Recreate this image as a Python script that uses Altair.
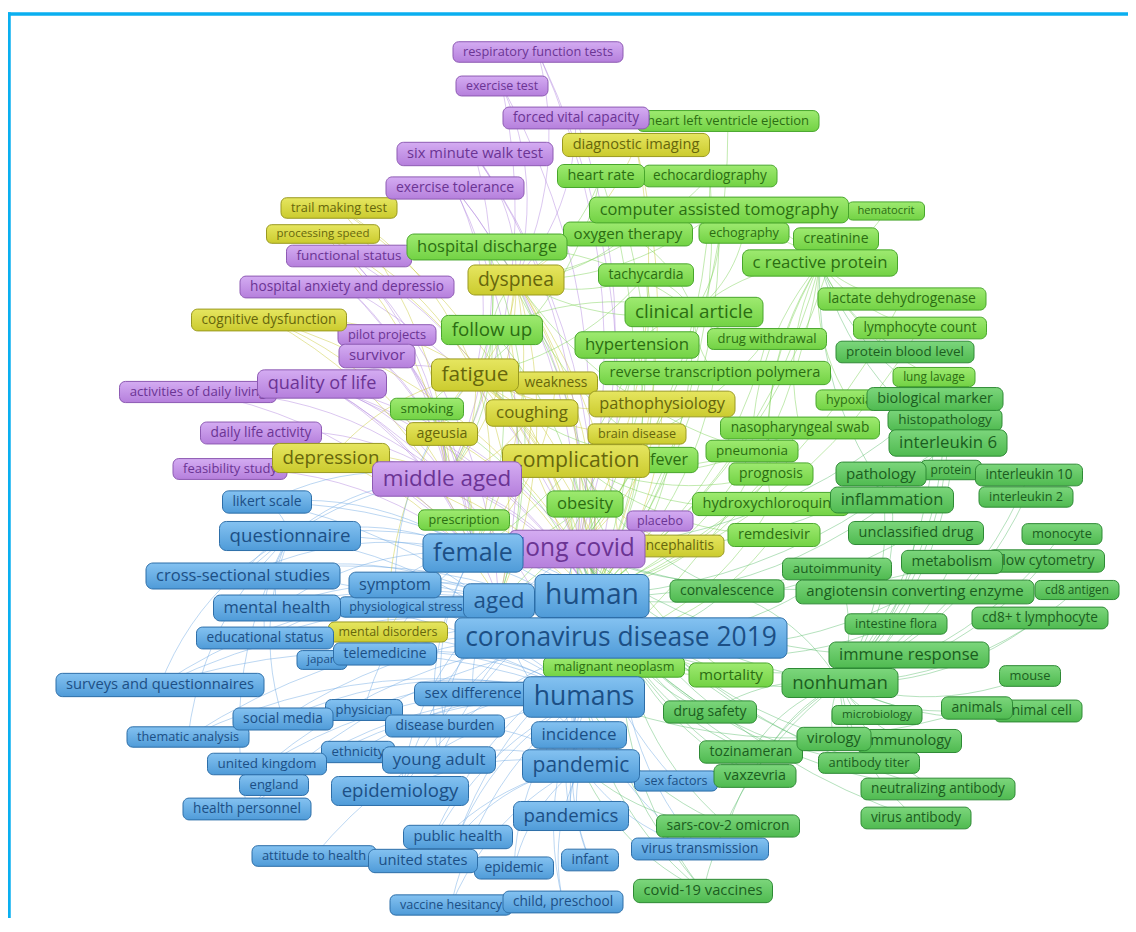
import math
import altair as alt
import pandas as pd

# ---- nodes: (label, x, y, label-box width), in map pixels ----
purple_nodes = [
    ("respiratory function tests", 538, 52, 170),
    ("exercise test", 502, 86, 92),
    ("forced vital capacity", 576, 118, 146),
    ("six minute walk test", 475, 154, 156),
    ("exercise tolerance", 455, 188, 138),
    ("functional status", 349, 256, 125),
    ("hospital anxiety and depressio", 347, 287, 214),
    ("pilot projects", 387, 335, 98),
    ("survivor", 377, 356, 76),
    ("quality of life", 322, 384, 129),
    ("activities of daily living", 198, 392, 157),
    ("daily life activity", 261, 433, 121),
    ("feasibility study", 230, 469, 114),
    ("middle aged", 447, 479, 149),
    ("long covid", 577, 549, 136),
    ("placebo", 660, 521, 66),
]
yellow_nodes = [
    ("diagnostic imaging", 636, 145, 147),
    ("trail making test", 339, 208, 116),
    ("processing speed", 323, 234, 113),
    ("dyspnea", 516, 280, 96),
    ("cognitive dysfunction", 269, 320, 155),
    ("fatigue", 475, 375, 87),
    ("weakness", 556, 383, 83),
    ("coughing", 532, 413, 92),
    ("pathophysiology", 662, 404, 146),
    ("ageusia", 442, 434, 71),
    ("brain disease", 637, 434, 98),
    ("depression", 331, 458, 117),
    ("complication", 576, 461, 147),
    ("encephalitis", 676, 546, 96),
    ("mental disorders", 388, 632, 119),
]
lime_nodes = [
    ("heart left ventricle ejection", 728, 121, 182),
    ("heart rate", 601, 176, 87),
    ("echocardiography", 710, 176, 134),
    ("computer assisted tomography", 719, 210, 259),
    ("hematocrit", 886, 211, 77),
    ("oxygen therapy", 628, 234, 129),
    ("echography", 744, 233, 90),
    ("creatinine", 836, 239, 85),
    ("hospital discharge", 487, 247, 160),
    ("c reactive protein", 820, 263, 155),
    ("tachycardia", 646, 275, 95),
    ("lactate dehydrogenase", 902, 299, 168),
    ("clinical article", 694, 312, 138),
    ("follow up", 492, 330, 101),
    ("lymphocyte count", 920, 328, 133),
    ("hypertension", 637, 345, 124),
    ("drug withdrawal", 767, 339, 119),
    ("reverse transcription polymera", 715, 373, 231),
    ("lung lavage", 934, 377, 82),
    ("hypoxia", 849, 400, 66),
    ("smoking", 427, 409, 73),
    ("nasopharyngeal swab", 800, 428, 159),
    ("pneumonia", 752, 451, 92),
    ("fever", 669, 460, 58),
    ("prognosis", 771, 474, 84),
    ("obesity", 585, 504, 76),
    ("hydroxychloroquine", 771, 504, 157),
    ("prescription", 464, 520, 91),
    ("remdesivir", 774, 535, 92),
    ("malignant neoplasm", 614, 667, 141),
    ("mortality", 731, 675, 84),
]
green_nodes = [
    ("protein blood level", 905, 352, 138),
    ("biological marker", 935, 399, 136),
    ("histopathology", 945, 420, 114),
    ("interleukin 6", 948, 443, 118),
    ("pathology", 881, 474, 90),
    ("protein", 951, 470, 61),
    ("interleukin 10", 1029, 475, 107),
    ("interleukin 2", 1026, 497, 94),
    ("inflammation", 892, 500, 123),
    ("unclassified drug", 916, 533, 135),
    ("monocyte", 1062, 534, 80),
    ("metabolism", 952, 562, 101),
    ("flow cytometry", 1046, 561, 117),
    ("autoimmunity", 837, 569, 109),
    ("convalescence", 727, 591, 114),
    ("angiotensin converting enzyme", 915, 592, 238),
    ("cd8 antigen", 1077, 590, 84),
    ("intestine flora", 896, 624, 102),
    ("cd8+ t lymphocyte", 1040, 618, 136),
    ("immune response", 909, 655, 160),
    ("nonhuman", 840, 683, 116),
    ("mouse", 1030, 676, 61),
    ("drug safety", 710, 712, 93),
    ("microbiology", 877, 715, 90),
    ("animals", 977, 708, 71),
    ("animal cell", 1038, 711, 88),
    ("virology", 834, 739, 74),
    ("immunology", 909, 741, 105),
    ("tozinameran", 751, 752, 103),
    ("antibody titer", 869, 763, 101),
    ("vaxzevria", 755, 776, 82),
    ("neutralizing antibody", 938, 789, 154),
    ("virus antibody", 916, 818, 110),
    ("sars-cov-2 omicron", 728, 826, 143),
    ("covid-19 vaccines", 703, 891, 139),
]
blue_nodes = [
    ("likert scale", 267, 502, 89),
    ("questionnaire", 290, 536, 141),
    ("female", 473, 553, 100),
    ("cross-sectional studies", 243, 576, 194),
    ("symptom", 395, 585, 92),
    ("aged", 499, 601, 71),
    ("human", 592, 596, 114),
    ("mental health", 277, 608, 127),
    ("physiological stress", 406, 607, 134),
    ("educational status", 265, 638, 137),
    ("coronavirus disease 2019", 621, 638, 332),
    ("japan", 322, 660, 50),
    ("telemedicine", 385, 654, 103),
    ("surveys and questionnaires", 160, 685, 208),
    ("sex difference", 473, 694, 117),
    ("humans", 584, 697, 121),
    ("physician", 364, 710, 77),
    ("social media", 283, 719, 100),
    ("disease burden", 445, 726, 119),
    ("thematic analysis", 188, 737, 122),
    ("incidence", 579, 735, 95),
    ("ethnicity", 358, 752, 73),
    ("young adult", 439, 760, 113),
    ("united kingdom", 267, 764, 119),
    ("pandemic", 581, 766, 117),
    ("sex factors", 676, 781, 83),
    ("england", 274, 785, 69),
    ("epidemiology", 400, 791, 137),
    ("health personnel", 247, 809, 128),
    ("pandemics", 571, 816, 115),
    ("public health", 458, 837, 109),
    ("virus transmission", 700, 849, 137),
    ("attitude to health", 314, 856, 124),
    ("united states", 423, 861, 109),
    ("epidemic", 514, 868, 79),
    ("infant", 590, 860, 57),
    ("vaccine hesitancy", 451, 905, 122),
    ("child, preschool", 563, 902, 120),
]

# ---- links (hub -> neighbours) ----
links = {
    "coronavirus disease 2019": ["questionnaire", "cross-sectional studies", "surveys and questionnaires",
        "mental health", "educational status", "symptom", "likert scale", "telemedicine", "social media",
        "thematic analysis", "united kingdom", "health personnel", "epidemiology", "pandemics", "public health",
        "united states", "virus transmission", "covid-19 vaccines", "sars-cov-2 omicron", "tozinameran",
        "vaxzevria", "drug safety", "mortality", "nonhuman", "immune response", "convalescence",
        "angiotensin converting enzyme", "remdesivir", "hydroxychloroquine", "c reactive protein", "fatigue",
        "dyspnea", "quality of life", "depression", "long covid", "middle aged", "intestine flora",
        "autoimmunity", "antibody titer", "neutralizing antibody"],
    "human": ["hospital discharge", "follow up", "fatigue", "dyspnea", "coughing", "complication",
        "clinical article", "hypertension", "obesity", "computer assisted tomography", "c reactive protein",
        "interleukin 6", "pneumonia", "fever", "prognosis", "inflammation", "unclassified drug", "quality of life",
        "middle aged", "six minute walk test", "exercise tolerance", "respiratory function tests",
        "diagnostic imaging", "heart rate", "oxygen therapy", "lactate dehydrogenase", "lymphocyte count",
        "reverse transcription polymera", "pathophysiology", "ageusia", "depression", "mortality",
        "questionnaire", "young adult", "incidence", "pandemic", "sex difference", "epidemiology", "aged",
        "female", "smoking", "tachycardia", "echocardiography", "nasopharyngeal swab", "drug withdrawal",
        "creatinine"],
    "humans": ["surveys and questionnaires", "cross-sectional studies", "mental health", "social media",
        "thematic analysis", "united kingdom", "england", "health personnel", "attitude to health",
        "united states", "vaccine hesitancy", "child, preschool", "infant", "epidemic", "public health",
        "pandemics", "virus transmission", "covid-19 vaccines", "sars-cov-2 omicron", "animals",
        "quality of life", "fatigue", "long covid", "physician", "ethnicity", "disease burden",
        "educational status", "japan", "telemedicine", "likert scale", "questionnaire"],
    "female": ["questionnaire", "likert scale", "cross-sectional studies", "depression", "quality of life",
        "fatigue", "dyspnea", "cognitive dysfunction", "hospital anxiety and depressio",
        "activities of daily living", "daily life activity", "feasibility study", "pilot projects", "survivor",
        "follow up", "smoking", "ageusia", "coughing", "obesity", "hypertension", "prescription", "young adult",
        "physician", "disease burden", "mental health", "symptom", "physiological stress", "mental disorders",
        "weakness"],
    "long covid": ["fatigue", "dyspnea", "complication", "pathophysiology", "brain disease", "encephalitis",
        "placebo", "quality of life", "exercise tolerance", "six minute walk test", "functional status",
        "cognitive dysfunction", "trail making test", "processing speed", "hospital anxiety and depressio",
        "forced vital capacity", "exercise test", "respiratory function tests", "diagnostic imaging",
        "nonhuman", "immune response", "autoimmunity", "virology", "neutralizing antibody", "virus antibody",
        "antibody titer", "covid-19 vaccines", "sex factors", "mortality", "incidence", "pandemic",
        "epidemiology", "heart left ventricle ejection", "tachycardia", "echocardiography", "interleukin 6",
        "metabolism", "biological marker", "drug safety", "tozinameran", "vaxzevria"],
    "middle aged": ["quality of life", "activities of daily living", "feasibility study", "daily life activity",
        "survivor", "pilot projects", "functional status", "hospital anxiety and depressio",
        "six minute walk test", "exercise test", "depression", "fatigue", "dyspnea", "follow up",
        "hospital discharge", "questionnaire", "cross-sectional studies", "cognitive dysfunction",
        "trail making test", "processing speed", "smoking", "ageusia", "coughing", "likert scale"],
    "aged": ["quality of life", "functional status", "exercise tolerance", "hospital discharge", "follow up",
        "fatigue", "dyspnea", "depression", "symptom", "mental health", "educational status",
        "cross-sectional studies", "surveys and questionnaires", "epidemiology", "young adult",
        "sex difference", "incidence", "mortality", "obesity", "hypertension"],
    "fatigue": ["dyspnea", "coughing", "weakness", "ageusia", "cognitive dysfunction", "depression",
        "trail making test", "processing speed", "smoking", "hospital discharge", "follow up",
        "mental disorders", "brain disease", "pathophysiology", "tachycardia", "heart rate",
        "exercise tolerance", "quality of life", "fever", "symptom"],
    "dyspnea": ["coughing", "tachycardia", "diagnostic imaging", "computer assisted tomography",
        "oxygen therapy", "hospital discharge", "follow up", "fever", "six minute walk test",
        "forced vital capacity", "respiratory function tests", "exercise test", "heart rate",
        "echocardiography", "clinical article", "pneumonia"],
    "complication": ["fever", "pneumonia", "encephalitis", "brain disease", "obesity", "hypertension",
        "malignant neoplasm", "mortality", "hydroxychloroquine", "remdesivir", "prognosis", "convalescence",
        "nasopharyngeal swab", "drug withdrawal"],
    "nonhuman": ["immune response", "interleukin 6", "interleukin 10", "interleukin 2", "inflammation",
        "metabolism", "flow cytometry", "monocyte", "mouse", "animals", "animal cell", "cd8+ t lymphocyte",
        "cd8 antigen", "intestine flora", "microbiology", "virology", "immunology", "antibody titer",
        "neutralizing antibody", "virus antibody", "angiotensin converting enzyme", "autoimmunity",
        "biological marker", "histopathology", "pathology", "protein", "unclassified drug", "tozinameran",
        "vaxzevria", "sars-cov-2 omicron", "covid-19 vaccines", "drug safety", "convalescence"],
    "c reactive protein": ["lactate dehydrogenase", "lymphocyte count", "protein blood level", "creatinine",
        "hematocrit", "interleukin 6", "biological marker", "hypoxia", "lung lavage", "pneumonia",
        "clinical article", "computer assisted tomography", "prognosis", "inflammation", "hydroxychloroquine",
        "nasopharyngeal swab", "echography"],
    "pandemic": ["epidemiology", "incidence", "public health", "pandemics", "sex factors", "united states",
        "infant", "epidemic", "virus transmission", "young adult", "disease burden", "vaccine hesitancy",
        "child, preschool", "covid-19 vaccines", "sars-cov-2 omicron"],
    "questionnaire": ["likert scale", "cross-sectional studies", "surveys and questionnaires", "mental health",
        "educational status", "thematic analysis", "social media", "health personnel"],
    "clinical article": ["hypertension", "drug withdrawal", "reverse transcription polymera",
        "computer assisted tomography", "tachycardia", "oxygen therapy", "echography", "hospital discharge",
        "follow up"],
}

# drawn last so that it sits above an equally large neighbour
on_top = ["female"]

# ---- styling ----
PAL = {
    "purple": dict(top="#d4acf2", bot="#b57fdc", stroke="#8d5ab3", text="#6b3494", edge="#b083de"),
    "yellow": dict(top="#e6e660", bot="#cbcb2e", stroke="#999920", text="#66660c", edge="#c8c830"),
    "lime":   dict(top="#9eea70", bot="#72d244", stroke="#48a62c", text="#2b6d12", edge="#78d050"),
    "green":  dict(top="#7cd67c", bot="#4fba50", stroke="#2e8a35", text="#1b5d20", edge="#5cbc6c"),
    "blue":   dict(top="#84c2f1", bot="#4f9bd8", stroke="#2d6ea8", text="#1c4f85", edge="#6aa6e2"),
}

EM = {"a": .556, "b": .613, "c": .476, "d": .613, "e": .561, "f": .339, "g": .548, "h": .614, "i": .253,
      "j": .253, "k": .525, "l": .253, "m": .930, "n": .614, "o": .604, "p": .613, "q": .613, "r": .407,
      "s": .477, "t": .353, "u": .614, "v": .501, "w": .778, "x": .524, "y": .502, "z": .477, " ": .26,
      "-": .322, ",": .245, "+": .572, ".": .266}


def em_width(s):
    return sum(EM.get(ch, .572) for ch in s)


rows = []
for cname, group in [("purple", purple_nodes), ("yellow", yellow_nodes), ("lime", lime_nodes),
                     ("green", green_nodes), ("blue", blue_nodes)]:
    for lab, x, y, w in group:
        rows.append(dict(label=lab, cluster=cname, x=x, y=y, w=w))
nodes = pd.DataFrame(rows)
nodes["font"] = (nodes["w"] - 20) / nodes["label"].map(em_width)
nodes["h"] = nodes["font"] * 1.45 + 2
nodes["x0"] = nodes["x"] - nodes["w"] / 2
nodes["x1"] = nodes["x"] + nodes["w"] / 2
nodes["y0"] = nodes["y"] - nodes["h"] / 2
nodes["y1"] = nodes["y"] + nodes["h"] / 2
nodes["top"] = nodes["label"].isin(on_top)
nodes = nodes.sort_values(["top", "font"], kind="stable").reset_index(drop=True)
nodes["idx"] = nodes.index

pos = {r.label: (r.x, r.y, r.cluster) for r in nodes.itertuples()}

# ---- curved edges ----
erows = []
seen = set()
eid = 0
for hub, nbrs in links.items():
    for nb in nbrs:
        key = frozenset((hub, nb))
        if key in seen or hub == nb:
            continue
        seen.add(key)
        ax, ay, _ = pos[hub]
        bx, by, cl = pos[nb]
        dx, dy = bx - ax, by - ay
        cx = (ax + bx) / 2 - dy * 0.18
        cy = (ay + by) / 2 + dx * 0.18
        for k in range(13):
            t = k / 12
            px = (1 - t) ** 2 * ax + 2 * (1 - t) * t * cx + t ** 2 * bx
            py = (1 - t) ** 2 * ay + 2 * (1 - t) * t * cy + t ** 2 * by
            erows.append(dict(eid=eid, t=k, px=px, py=py, cluster=cl))
        eid += 1
edges = pd.DataFrame(erows)

W, H = 1120, 910
xs = alt.Scale(domain=[8, 8 + W], nice=False, zero=False)
ys = alt.Scale(domain=[8, 8 + H], nice=False, zero=False, reverse=True)

cl_names = list(PAL.keys())
edge_layer = alt.Chart(edges).mark_line(strokeWidth=1, opacity=0.45).encode(
    x=alt.X("px:Q", scale=xs, axis=None),
    y=alt.Y("py:Q", scale=ys, axis=None),
    detail="eid:N",
    order="t:Q",
    color=alt.Color("cluster:N", scale=alt.Scale(domain=cl_names, range=[PAL[c]["edge"] for c in cl_names]),
                    legend=None),
)

layers = [edge_layer]
for r in nodes.itertuples():
    pal = PAL[r.cluster]
    grad = alt.LinearGradient(
        gradient="linear",
        stops=[alt.GradientStop(color=pal["top"], offset=0), alt.GradientStop(color=pal["bot"], offset=1)],
        x1=0, x2=0, y1=0, y2=1,
    )
    rect = alt.Chart(nodes).mark_rect(
        fill=grad, stroke=pal["stroke"], strokeWidth=1, cornerRadius=round(min(7, r.h * 0.28), 1)
    ).encode(
        x=alt.X("x0:Q", scale=xs, axis=None), x2="x1:Q",
        y=alt.Y("y0:Q", scale=ys, axis=None), y2="y1:Q",
    ).transform_filter(alt.datum.idx == int(r.idx))
    txt = alt.Chart(nodes).mark_text(
        font="Open Sans", fontSize=round(float(r.font), 2), color=pal["text"], align="center", baseline="middle"
    ).encode(
        x=alt.X("x:Q", scale=xs, axis=None),
        y=alt.Y("y:Q", scale=ys, axis=None),
        text="label:N",
    ).transform_filter(alt.datum.idx == int(r.idx))
    layers += [rect, txt]

frame = pd.DataFrame({"v": [0]})
top_rule = alt.Chart(frame).mark_rule(color="#0aaff0", strokeWidth=3.5).encode(
    x=alt.value(0), x2=alt.value(W), y=alt.value(6))
left_rule = alt.Chart(frame).mark_rule(color="#0aaff0", strokeWidth=3.5).encode(
    x=alt.value(1), y=alt.value(4.3), y2=alt.value(H))
layers += [top_rule, left_rule]

chart = alt.layer(*layers).properties(
    width=W, height=H, padding=0, autosize=alt.AutoSizeParams(type="none")
).configure_view(stroke=None)

chart.save("out.html", embed_options={"renderer": "svg", "actions": False})
